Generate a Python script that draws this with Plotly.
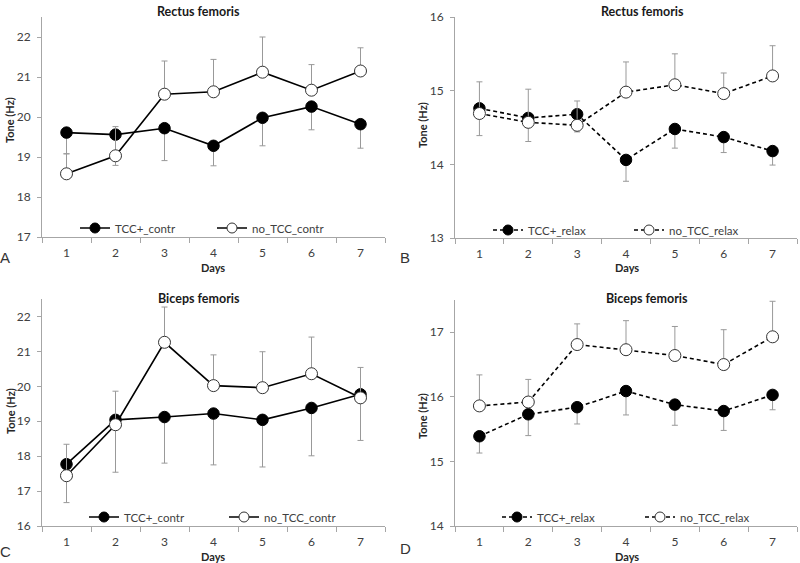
import plotly.graph_objects as go

W, H = 800, 563

days = [1, 2, 3, 4, 5, 6, 7]
day_labels = ["1", "2", "3", "4", "5", "6", "7"]

# Panel A: Rectus femoris, contraction
A_tcc = [19.61, 19.56, 19.72, 19.28, 19.98, 20.26, 19.82]
A_tcc_err = [0.53, 0.77, 0.81, 0.50, 0.70, 0.58, 0.60]
A_no = [18.58, 19.03, 20.57, 20.63, 21.12, 20.67, 21.15]
A_no_err = [0.50, 0.73, 0.83, 0.81, 0.88, 0.64, 0.58]

# Panel B: Rectus femoris, relax
B_tcc = [14.76, 14.63, 14.68, 14.06, 14.48, 14.37, 14.18]
B_tcc_err = [0.37, 0.32, 0.24, 0.29, 0.26, 0.21, 0.19]
B_no = [14.69, 14.57, 14.53, 14.98, 15.08, 14.96, 15.20]
B_no_err = [0.43, 0.45, 0.33, 0.41, 0.42, 0.28, 0.41]

# Panel C: Biceps femoris, contraction
C_tcc = [17.77, 19.04, 19.12, 19.22, 19.04, 19.38, 19.77]
C_tcc_err = [1.10, 1.50, 1.32, 1.47, 1.35, 1.37, 1.32]
C_no = [17.44, 18.90, 21.26, 20.02, 19.96, 20.36, 19.67]
C_no_err = [0.90, 0.96, 1.01, 0.88, 1.03, 1.05, 0.87]

# Panel D: Biceps femoris, relax
D_tcc = [15.39, 15.73, 15.84, 16.09, 15.88, 15.78, 16.03]
D_tcc_err = [0.26, 0.33, 0.26, 0.37, 0.32, 0.30, 0.23]
D_no = [15.86, 15.92, 16.81, 16.73, 16.64, 16.50, 16.93]
D_no_err = [0.48, 0.35, 0.32, 0.45, 0.45, 0.54, 0.55]

titles = ["Rectus femoris", "Rectus femoris", "Biceps femoris", "Biceps femoris"]
letters = ["A", "B", "C", "D"]
names_contr = ["TCC+_contr", "no_TCC_contr"]
names_relax = ["TCC+_relax", "no_TCC_relax"]
y_ranges = [[17, 22.5], [13, 16], [16, 22.5], [14, 17.5]]
y_ticks = [[17, 18, 19, 20, 21, 22], [13, 14, 15, 16], [16, 17, 18, 19, 20, 21, 22], [14, 15, 16, 17]]

FONT = "Lato"
AX = "#a6a6a6"
TXT = "#404040"
ERR = "#999999"


def px_x(x):
    return x / W


def px_y(y):
    return 1 - y / H


# plot areas in pixels: (left, right, top, bottom)
areas = [(42, 385, 17, 237), (455, 797, 17, 238), (42, 385, 299, 526), (455, 797, 300, 526)]

panels = [
    (A_tcc, A_tcc_err, A_no, A_no_err, names_contr, "solid"),
    (B_tcc, B_tcc_err, B_no, B_no_err, names_relax, "4px,3px"),
    (C_tcc, C_tcc_err, C_no, C_no_err, names_contr, "solid"),
    (D_tcc, D_tcc_err, D_no, D_no_err, names_relax, "4px,3px"),
]

legend_pos = [(75, 228, 92), (488, 230, 96), (84, 517, 95), (497, 517, 98)]
title_pos = [(198, 11), (642, 11), (199, 298), (647, 298)]
tone_pos = [(10, 120), (422, 125), (10, 411), (422, 416)]
days_pos = [(213, 267), (627, 267), (213, 556), (627, 556)]
letter_pos = [(5, 257), (405, 258), (5, 551), (405, 548)]

fig = go.Figure()
layout = dict(
    width=W, height=H, margin=dict(l=0, r=0, t=0, b=0, autoexpand=False),
    paper_bgcolor="white", plot_bgcolor="white",
    font=dict(family=FONT, color=TXT, size=11),
    showlegend=True, annotations=[],
)

for i, (tcc, tcc_err, no, no_err, names, dash) in enumerate(panels):
    n = "" if i == 0 else str(i + 1)
    xa, ya = "x" + n, "y" + n
    leg = "legend" + n
    zeros = [0] * len(days)
    fig.add_trace(go.Scatter(
        x=days, y=tcc, xaxis=xa, yaxis=ya, mode="lines+markers", showlegend=False,
        line=dict(color="black", width=1.6, dash=dash),
        marker=dict(size=11.5, color="black", line=dict(color="black", width=1)),
        error_y=dict(type="data", symmetric=False, array=zeros, arrayminus=tcc_err,
                     color=ERR, thickness=1, width=3),
    ))
    fig.add_trace(go.Scatter(
        x=days, y=no, xaxis=xa, yaxis=ya, mode="lines+markers", showlegend=False,
        line=dict(color="black", width=1.6, dash=dash),
        marker=dict(size=12, color="white", line=dict(color="#333333", width=1)),
        error_y=dict(type="data", symmetric=False, array=no_err, arrayminus=zeros,
                     color=ERR, thickness=1, width=3),
    ))
    # legend entries
    fig.add_trace(go.Scatter(
        x=[None], y=[None], xaxis=xa, yaxis=ya, mode="lines+markers", name=names[0], legend=leg,
        line=dict(color="black", width=1.6, dash=dash),
        marker=dict(size=10, color="black", line=dict(color="black", width=1)),
    ))
    fig.add_trace(go.Scatter(
        x=[None], y=[None], xaxis=xa, yaxis=ya, mode="lines+markers", name=names[1], legend=leg,
        line=dict(color="black", width=1.6, dash=dash),
        marker=dict(size=10, color="white", line=dict(color="#333333", width=1)),
    ))

    l, r, t, b = areas[i]
    xkey = "xaxis" + n
    ykey = "yaxis" + n
    layout[xkey] = dict(
        domain=[px_x(l), px_x(r)], anchor=ya, range=[0.5, 7.5], automargin=False,
        tickvals=days, ticktext=day_labels, ticks="", showgrid=False, zeroline=False,
        showline=True, linecolor=AX, linewidth=1,
        tickfont=dict(family=FONT, size=12, color=TXT), ticklabelstandoff=5,
        minor=dict(tickvals=[0.5, 1.5, 2.5, 3.5, 4.5, 5.5, 6.5, 7.5], ticks="outside",
                   ticklen=5, tickcolor=AX, tickwidth=1, showgrid=False),
        fixedrange=True,
    )
    layout[ykey] = dict(
        domain=[px_y(b), px_y(t)], anchor=xa, range=y_ranges[i], automargin=False,
        tickvals=y_ticks[i], ticks="outside", ticklen=4, tickcolor=AX, tickwidth=1,
        showgrid=False, zeroline=False, showline=True, linecolor=AX, linewidth=1,
        tickfont=dict(family=FONT, size=12, color=TXT), ticklabelstandoff=4,
        fixedrange=True,
    )
    lx, ly, ew = legend_pos[i]
    layout[leg] = dict(
        orientation="h", x=px_x(lx), y=px_y(ly), xanchor="left", yanchor="middle",
        bgcolor="rgba(0,0,0,0)", borderwidth=0, entrywidth=ew, entrywidthmode="pixels",
        font=dict(family=FONT, size=11.5, color=TXT), itemclick=False, itemdoubleclick=False,
    )
    tx, ty = title_pos[i]
    layout["annotations"].append(dict(
        x=px_x(tx), y=px_y(ty), xref="paper", yref="paper", text="<b>%s</b>" % titles[i],
        showarrow=False, xanchor="center", yanchor="middle",
        font=dict(family=FONT, size=12.5, color="#1a1a1a")))
    ox, oy = tone_pos[i]
    layout["annotations"].append(dict(
        x=px_x(ox), y=px_y(oy), xref="paper", yref="paper", text="<b>Tone (Hz)</b>",
        showarrow=False, xanchor="center", yanchor="middle", textangle=-90,
        font=dict(family=FONT, size=11, color="#262626")))
    dx, dy = days_pos[i]
    layout["annotations"].append(dict(
        x=px_x(dx), y=px_y(dy), xref="paper", yref="paper", text="<b>Days</b>",
        showarrow=False, xanchor="center", yanchor="middle",
        font=dict(family=FONT, size=11, color="#262626")))
    gx, gy = letter_pos[i]
    layout["annotations"].append(dict(
        x=px_x(gx), y=px_y(gy), xref="paper", yref="paper", text=letters[i],
        showarrow=False, xanchor="center", yanchor="middle",
        font=dict(family="Liberation Sans", size=15, color="#333333")))

fig.update_layout(**layout)
fig.write_html(
    "out.html",
    config={"displayModeBar": False, "staticPlot": False},
    post_script="document.body.style.margin='0';document.body.style.overflow='hidden';"
                "document.documentElement.style.overflow='hidden';",
)
